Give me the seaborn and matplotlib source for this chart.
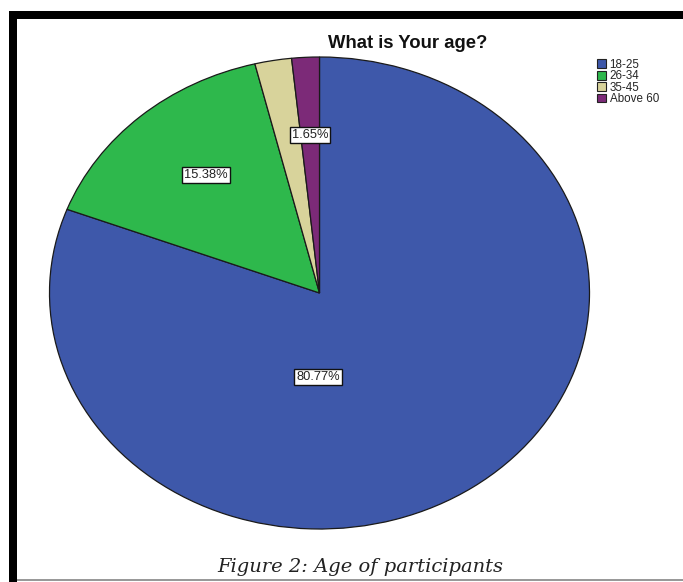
import matplotlib
matplotlib.use("Agg")
import matplotlib.pyplot as plt
from matplotlib.patches import Rectangle
import seaborn as sns

sns.set_style("white")
plt.rcParams['font.family'] = ['Liberation Sans', 'DejaVu Sans']

# Survey responses: "What is Your age?"
age_groups = ["18-25", "26-34", "35-45", "Above 60"]
counts = [147, 28, 4, 3]
colors = ["#3E58AA", "#2EB84C", "#D8D39B", "#7C2A78"]
# which slices get a percentage tag, and where the tag sits (axes data units)
show_label = [True, True, False, True]
label_pos = [(-0.006, -0.356), (-0.42, 0.50), (0.0, 0.0), (-0.035, 0.67)]

total = sum(counts)
percents = [100.0 * c / total for c in counts]

W, H = 683, 582
fig = plt.figure(figsize=(W / 100, H / 100), dpi=100)
fig.patch.set_facecolor("white")

# pie area (elliptical, stretched horizontally)
cx, cy, rx, ry = 319.5, 293.0, 270.0, 236.0
ax = fig.add_axes([(cx - rx) / W, (H - cy - ry) / H, 2 * rx / W, 2 * ry / H])
wedges, _ = ax.pie(counts, colors=colors, startangle=90, counterclock=False,
                   radius=1.0,
                   wedgeprops=dict(edgecolor="#1a1a1a", linewidth=0.9))
ax.set_xlim(-1.0, 1.0)
ax.set_ylim(-1.0, 1.0)
ax.set_aspect("auto")
ax.axis("off")

for pct, show, (lx, ly) in zip(percents, show_label, label_pos):
    if show:
        ax.text(lx, ly, f"{pct:.2f}%", ha="center", va="center",
                fontsize=9.3, color="#222222",
                bbox=dict(boxstyle="square,pad=0.15", facecolor="white",
                          edgecolor="#111111", linewidth=1.0))

# title
fig.text(408 / W, 1 - 44 / H, "What is Your age?", ha="center", va="center",
         fontsize=13.3, fontweight="bold", color="#111111")

# legend
handles = [Rectangle((0, 0), 1, 1, facecolor=c, edgecolor="#222222", linewidth=0.8)
           for c in colors]
fig.legend(handles, age_groups, loc="upper left",
           bbox_to_anchor=(591 / W, 1 - 53 / H), frameon=False,
           fontsize=8.4, handlelength=0.8, handleheight=0.8,
           handletextpad=0.3, labelspacing=-0.05, borderpad=0.0)

# caption
fig.text(360 / W, 1 - 567 / H, "Figure 2: Age of participants", ha="center",
         va="center", fontsize=14.0, style="italic", family="DejaVu Serif",
         color="#222222")

# page frame: heavy top and left rules, thin bottom rule
fig.patches.append(Rectangle((9 / W, 1 - 19 / H), 1 - 9 / W, 8 / H,
                             transform=fig.transFigure, facecolor="black",
                             edgecolor="none"))
fig.patches.append(Rectangle((9 / W, 0), 8 / W, 1 - 11 / H,
                             transform=fig.transFigure, facecolor="black",
                             edgecolor="none"))
fig.patches.append(Rectangle((17 / W, 1 / H), 1 - 17 / W, 2 / H,
                             transform=fig.transFigure, facecolor="#999999",
                             edgecolor="none"))

fig.savefig("out.png", dpi=100, facecolor="white")
